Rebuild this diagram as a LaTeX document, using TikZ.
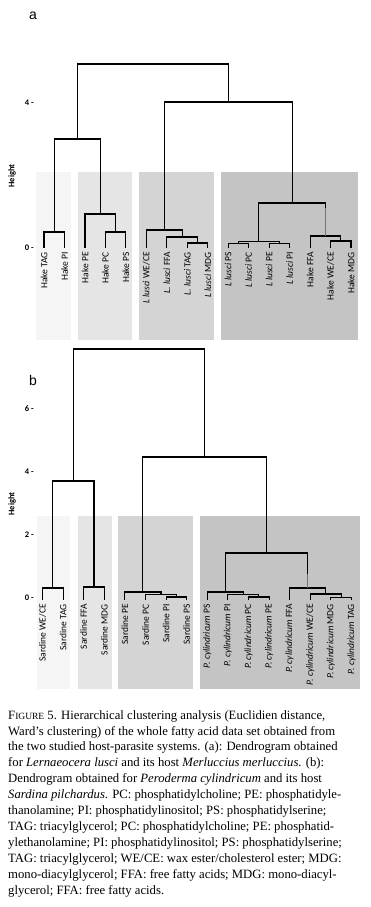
\documentclass[tikz,border=0pt]{standalone}
\usepackage{fontspec}
\setmainfont{Liberation Serif}
\newfontfamily\labfont{Carlito}
\newfontfamily\panfont{Liberation Sans}
\begin{document}
\begin{tikzpicture}[x=1pt,y=-1pt,
  dend/.style={line width=1.1pt, line cap=rect},
  greyseg/.style={line width=1.1pt, draw=black!55},
  lab/.style={rotate=90, anchor=east, inner sep=0pt, font=\labfont\fontsize{9.5}{10}\selectfont},
  tick/.style={anchor=east, inner sep=0pt, font=\labfont\bfseries\fontsize{8.5}{9}\selectfont},
  ylab/.style={rotate=90, inner sep=0pt, font=\labfont\bfseries\fontsize{8.5}{9}\selectfont},
  panel/.style={anchor=base west, inner sep=0pt, font=\panfont\fontsize{14}{14}\selectfont}]
\useasboundingbox (0,0) rectangle (370,907);
\fill[white] (0,0) rectangle (370,907);
% ---------- panel a ----------
\node[panel] (pa) at (29,20) {a};
\fill[black!4]  (36,172) rectangle (71,340);
\fill[black!10] (78,172) rectangle (132,340);
\fill[black!17] (139,172) rectangle (214,340);
\fill[black!23] (221,172) rectangle (358,340);
\node[tick] (ta4) at (34,103) {4 -};
\node[tick] (ta0) at (34,248) {0 -};
\node[ylab] (ha) at (12,176) {Height};
\draw[dend] (44,247) |- (64.5,232) -- (64.5,247);
\draw[dend] (54.25,232) -- (54.25,139);
\draw[dend] (105.4,247) |- (125.9,232) -- (125.9,247);
\draw[dend] (115.65,232) -- (115.65,214);
\draw[dend] (85,247) |- (115.65,214);
\draw[dend] (100.3,214) -- (100.3,139);
\draw[dend] (54.25,139) -- (100.3,139);
\draw[dend] (77.3,139) -- (77.3,64);
\draw[dend] (187.3,247) |- (207.8,243) -- (207.8,247);
\draw[dend] (197.55,243) -- (197.55,237);
\draw[dend] (166.8,247) |- (197.55,237);
\draw[dend] (182.2,237) -- (182.2,230);
\draw[dend] (146.4,247) |- (182.2,230);
\draw[dend] (164.3,230) -- (164.3,102);
\draw[dend] (228.2,247) |- (248.7,243.5) -- (248.7,247);
\draw[dend] (269.2,247) |- (289.6,243.5) -- (289.6,247);
\draw[dend] (238.45,243.5) -- (238.45,241.5) -- (279.4,241.5) -- (279.4,243.5);
\draw[dend] (258.9,241.5) -- (258.9,203);
\draw[dend] (330.6,247) |- (351,241) -- (351,247);
\draw[dend] (340.8,241) -- (340.8,236);
\draw[dend] (310.1,247) |- (340.8,236);
\draw[greyseg] (325.45,236) -- (325.45,207);
\draw[dend] (325.45,207) -- (325.45,203);
\draw[dend] (258.9,203) -- (325.45,203);
\draw[dend] (292.2,203) -- (292.2,102);
\draw[dend] (164.3,102) -- (292.2,102);
\draw[dend] (228.25,102) -- (228.25,64);
\draw[dend] (77.3,64) -- (228.25,64);
\node[lab] (a1) at (44,252) {Hake TAG};
\node[lab] (a2) at (64.5,252) {Hake PI};
\node[lab] (a3) at (85,252) {Hake PE};
\node[lab] (a4) at (105.4,252) {Hake PC};
\node[lab] (a5) at (125.9,252) {Hake PS};
\node[lab] (a6) at (146.4,252) {\itshape L lusci\upshape\ WE/CE};
\node[lab] (a7) at (166.8,252) {\itshape L. lusci\upshape\ FFA};
\node[lab] (a8) at (187.3,252) {\itshape L. lusci\upshape\ TAG};
\node[lab] (a9) at (207.8,252) {\itshape L lusci\upshape\ MDG};
\node[lab] (a10) at (228.2,252) {\itshape L lusci\upshape\ PS};
\node[lab] (a11) at (248.7,252) {\itshape L lusci\upshape\ PC};
\node[lab] (a12) at (269.2,252) {\itshape L lusci\upshape\ PE};
\node[lab] (a13) at (289.6,252) {\itshape L lusci\upshape\ PI};
\node[lab] (a14) at (310.1,252) {Hake FFA};
\node[lab] (a15) at (330.6,252) {Hake WE/CE};
\node[lab] (a16) at (351,252) {Hake MDG};
% ---------- panel b ----------
\node[panel] (pb) at (29,385) {b};
\fill[black!4]  (37,516) rectangle (70,689);
\fill[black!10] (78,516) rectangle (112,689);
\fill[black!17] (118,516) rectangle (193,689);
\fill[black!23] (200,516) rectangle (360,689);
\node[tick] (tb6) at (34,409) {6 -};
\node[tick] (tb4) at (34,472) {4 -};
\node[tick] (tb2) at (34,535) {2 -};
\node[tick] (tb0) at (34,598) {0 -};
\node[ylab] (hb) at (12,504) {Height};
\draw[dend] (42.5,599) |- (63.1,588) -- (63.1,599);
\draw[dend] (52.8,588) -- (52.8,481);
\draw[dend] (83.7,599) |- (104.3,587) -- (104.3,599);
\draw[dend] (94,587) -- (94,481);
\draw[dend] (52.8,481) -- (94,481);
\draw[dend] (73.4,481) -- (73.4,349);
\draw[dend] (166.1,599) |- (186.7,597) -- (186.7,599);
\draw[dend] (176.4,597) -- (176.4,594.5);
\draw[dend] (145.5,599) |- (176.4,594.5);
\draw[dend] (160.95,594.5) -- (160.95,592);
\draw[dend] (124.9,599) |- (160.95,592);
\draw[dend] (142.9,592) -- (142.9,457);
\draw[dend] (248.5,599) |- (269.1,597) -- (269.1,599);
\draw[dend] (258.8,597) -- (258.8,594.5);
\draw[dend] (227.9,599) |- (258.8,594.5);
\draw[dend] (243.35,594.5) -- (243.35,592);
\draw[dend] (207.3,599) |- (243.35,592);
\draw[dend] (225.3,592) -- (225.3,553);
\draw[dend] (330.9,599) |- (351.5,597.5) -- (351.5,599);
\draw[dend] (341.2,597.5) -- (341.2,594);
\draw[dend] (310.3,599) |- (341.2,594);
\draw[dend] (325.75,594) -- (325.75,588);
\draw[dend] (289.7,599) |- (325.75,588);
\draw[greyseg] (307.7,588) -- (307.7,573);
\draw[dend] (307.7,573) -- (307.7,553);
\draw[dend] (225.3,553) -- (307.7,553);
\draw[dend] (266.5,553) -- (266.5,457);
\draw[dend] (142.9,457) -- (266.5,457);
\draw[dend] (204.7,457) -- (204.7,349);
\draw[dend] (73.4,349) -- (204.7,349);
\node[lab] (b1) at (42.5,604) {Sardine WE/CE};
\node[lab] (b2) at (63.1,604) {Sardine TAG};
\node[lab] (b3) at (83.7,604) {Sardine FFA};
\node[lab] (b4) at (104.3,604) {Sardine MDG};
\node[lab] (b5) at (124.9,604) {Sardine PE};
\node[lab] (b6) at (145.5,604) {Sardine PC};
\node[lab] (b7) at (166.1,604) {Sardine PI};
\node[lab] (b8) at (186.7,604) {Sardine PS};
\node[lab] (b9) at (207.3,604) {\itshape P. cylindricum\upshape\ PS};
\node[lab] (b10) at (227.9,604) {\itshape P. cylindricum\upshape\ PI};
\node[lab] (b11) at (248.5,604) {\itshape P. cylindricum\upshape\ PC};
\node[lab] (b12) at (269.1,604) {\itshape P. cylindricum\upshape\ PE};
\node[lab] (b13) at (289.7,604) {\itshape P. cylindricum\upshape\ FFA};
\node[lab] (b14) at (310.3,604) {\itshape P. cylindricum\upshape\ WE/CE};
\node[lab] (b15) at (330.9,604) {\itshape P. cylindricum\upshape\ MDG};
\node[lab] (b16) at (351.5,604) {\itshape P. cylindricum\upshape\ TAG};
% ---------- caption ----------
\node[anchor=base west, inner sep=0pt, align=left, font=\fontsize{12.7}{15.9}\selectfont] (cap) at (8,894)
{F{\fontsize{9.5}{15.9}\selectfont IGURE} 5. Hierarchical clustering analysis (Euclidien distance,\\
Ward’s clustering) of the whole fatty acid data set obtained from\\
the two studied host-parasite systems. (a): Dendrogram obtained\\
for \textit{Lernaeocera lusci} and its host \textit{Merluccius merluccius}. (b):\\
Dendrogram obtained for \textit{Peroderma cylindricum} and its host\\
\textit{Sardina pilchardus}. PC: phosphatidylcholine; PE: phosphatidyle-\\
thanolamine; PI: phosphatidylinositol; PS: phosphatidylserine;\\
TAG: triacylglycerol; PC: phosphatidylcholine; PE: phosphatid-\\
ylethanolamine; PI: phosphatidylinositol; PS: phosphatidylserine;\\
TAG: triacylglycerol; WE/CE: wax ester/cholesterol ester; MDG:\\
mono-diacylglycerol; FFA: free fatty acids; MDG: mono-diacyl-\\
glycerol; FFA: free fatty acids.};
\end{tikzpicture}
\end{document}
